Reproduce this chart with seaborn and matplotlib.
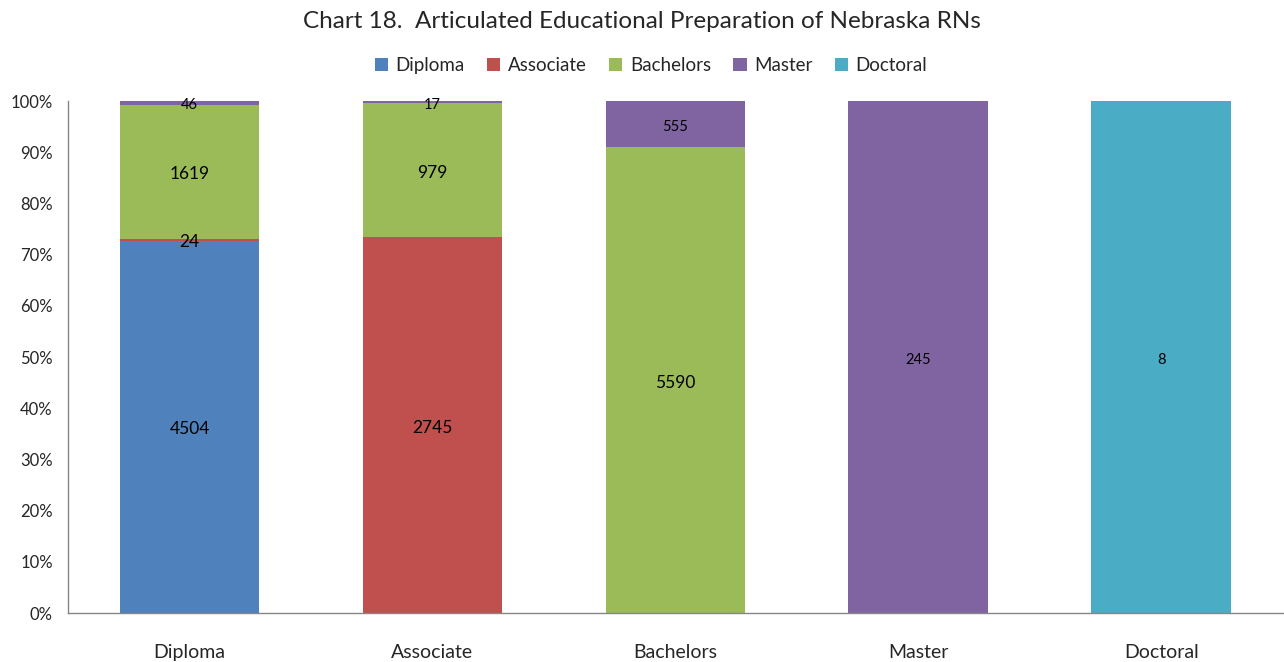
import numpy as np
import pandas as pd
import matplotlib
matplotlib.use("Agg")
import matplotlib.pyplot as plt
import seaborn as sns

sns.set_style("white")
plt.rcParams["font.family"] = ["Lato", "DejaVu Sans"]

# articulated preparation: bar = initial education, stack = later education
degrees = ["Diploma", "Associate", "Bachelors", "Master", "Doctoral"]
diploma = [4504, 0, 0, 0, 0]
associate = [24, 2745, 0, 0, 0]
bachelors = [1619, 979, 5590, 0, 0]
master = [46, 17, 555, 245, 0]
doctoral = [0, 0, 0, 0, 8]
colors = ["#4F81BD", "#C0504D", "#9BBB59", "#8064A2", "#4BACC6"]

df = pd.DataFrame({"Diploma": diploma, "Associate": associate,
                   "Bachelors": bachelors, "Master": master,
                   "Doctoral": doctoral}, index=degrees)
pct = df.div(df.sum(axis=1), axis=0)
cum = pct.cumsum(axis=1)

fig = plt.figure(figsize=(12.84, 6.62), dpi=100)
ax = fig.add_axes([0.053, 0.074, 0.946, 0.7734])

# draw cumulative totals from the top layer down so each stack shows through
for name, color in reversed(list(zip(degrees, colors))):
    sns.barplot(x=cum.index, y=cum[name].values, color=color, width=0.575,
                saturation=1, ax=ax, label=name, edgecolor="none")

# value labels in the middle of each segment
big = {"Diploma", "Associate", "Bachelors"}
for i, row in enumerate(degrees):
    for name in degrees:
        val = df.loc[row, name]
        if val == 0:
            continue
        mid = cum.loc[row, name] - pct.loc[row, name] / 2
        size = 12.5 if (val > 900 or (name in big and row == "Diploma")) else 10.5
        ax.text(i, mid - 0.005, str(val), ha="center", va="center",
                fontsize=size, color="black")

ax.set_ylim(0, 1)
ax.set_xlim(-0.5, 4.5)
ax.set_yticks(np.arange(0, 1.01, 0.1))
ax.set_yticklabels([f"{int(round(t * 100))}%" for t in np.arange(0, 1.01, 0.1)],
                   fontsize=12)
ax.tick_params(axis="x", labelsize=14, length=0, pad=22)
ax.tick_params(axis="y", length=0, pad=11)
ax.set_xlabel("")
ax.set_ylabel("")
for side in ["top", "right"]:
    ax.spines[side].set_visible(False)
for side in ["left", "bottom"]:
    ax.spines[side].set_color("#868686")
    ax.spines[side].set_linewidth(1)

handles, labels = ax.get_legend_handles_labels()
order = [labels.index(d) for d in degrees]
ax.legend([handles[k] for k in order], [labels[k] for k in order],
          loc="center", bbox_to_anchor=(0.48, 1.07), ncol=5, frameon=False,
          fontsize=13.5, handlelength=0.7, handleheight=0.7,
          handletextpad=0.4, columnspacing=1.2)

fig.suptitle("Chart 18.  Articulated Educational Preparation of Nebraska RNs",
             x=0.5, y=0.983, fontsize=17.5)

fig.savefig("out.png", dpi=100)
